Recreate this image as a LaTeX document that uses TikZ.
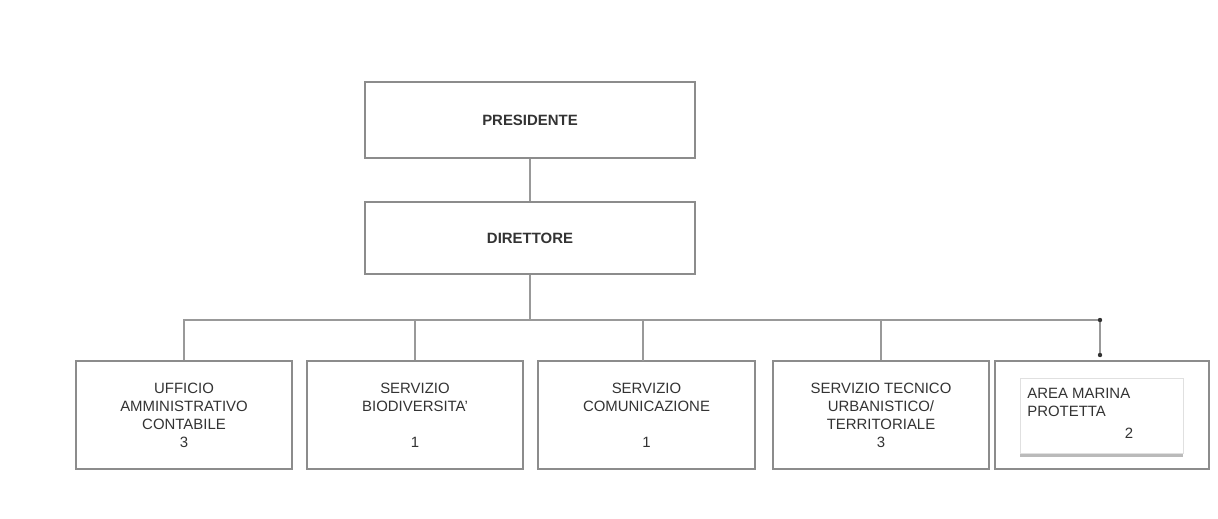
\documentclass[tikz,border=0pt]{standalone}
\usepackage{fontspec}
\setmainfont{Liberation Sans}
\usetikzlibrary{shadows}
\begin{document}
\begin{tikzpicture}[x=0.02cm,y=-0.02cm,
  box/.style={draw=black!45,line width=0.8pt,fill=white,rectangle,inner sep=0pt,
    align=center,text=black!80,font=\fontsize{8.5}{10.2}\selectfont},
  conn/.style={draw=black!40,line width=0.8pt},
  dotc/.style={fill=black!80}]
\useasboundingbox (0,0) rectangle (1218,518);
\fill[white] (0,0) rectangle (1218,518);
\node[box,minimum width=330*0.02cm,minimum height=76*0.02cm,font=\fontsize{8.5}{10.2}\selectfont\bfseries] (pres) at (530,120) {PRESIDENTE};
\node[box,minimum width=330*0.02cm,minimum height=72*0.02cm,font=\fontsize{8.5}{10.2}\selectfont\bfseries] (dir) at (530,238) {DIRETTORE};
\node[box,minimum width=216*0.02cm,minimum height=108*0.02cm] (b1) at (184,415) {UFFICIO\\AMMINISTRATIVO\\CONTABILE\\3};
\node[box,minimum width=216*0.02cm,minimum height=108*0.02cm] (b2) at (415,415) {SERVIZIO\\BIODIVERSITA'\\\strut\\1};
\node[box,minimum width=217*0.02cm,minimum height=108*0.02cm] (b3) at (646.5,415) {SERVIZIO\\COMUNICAZIONE\\\strut\\1};
\node[box,minimum width=216*0.02cm,minimum height=108*0.02cm] (b4) at (881,415) {SERVIZIO TECNICO\\URBANISTICO/\\TERRITORIALE\\3};
\node[box,minimum width=214*0.02cm,minimum height=108*0.02cm] (b5) at (1102,415) {};
\node[rectangle,draw=black!12,fill=white,minimum width=163*0.02cm,minimum height=75*0.02cm,inner sep=0pt,
  drop shadow={shadow xshift=0pt,shadow yshift=-2.5pt,fill=black!45,opacity=0.6}] (inner) at (1101.5,415.5) {};
\node[anchor=north west,align=left,inner sep=0pt,text=black!80,font=\fontsize{8.5}{10.2}\selectfont] (amp) at (1027,388) {AREA MARINA\\PROTETTA};
\node[inner sep=0pt,text=black!80,font=\fontsize{8.5}{10.2}\selectfont] (num) at (1129,433) {2};
\coordinate (hub) at (530,320);
\coordinate (hL) at (184,320);
\coordinate (hR) at (1100,320);
\coordinate (endR) at (1100,355);
\draw[conn] (pres.south) -- (dir.south |- pres.south) -- (dir.north);
\draw[conn] (dir.south) -- (hub);
\draw[conn] (b1.north) -- (hL) -- (hR) -- (endR);
\draw[conn] (b2.north) -- (b2.north |- hL);
\draw[conn] (643,320) -- (643,361);
\draw[conn] (b4.north) -- (b4.north |- hL);
\fill[dotc] (hR) circle (2.2);
\fill[dotc] (endR) circle (2.2);
\end{tikzpicture}
\end{document}
